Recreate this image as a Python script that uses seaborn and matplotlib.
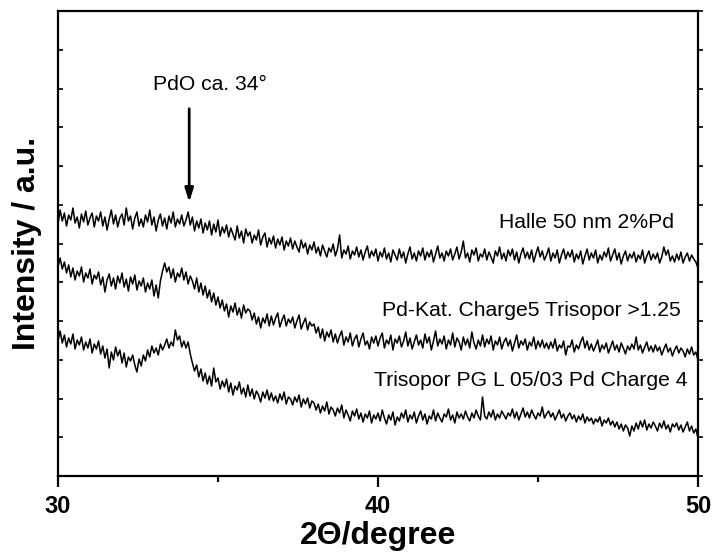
import numpy as np
import pandas as pd
import matplotlib
matplotlib.use("Agg")
import matplotlib.pyplot as plt
import seaborn as sns

# Intensities (a.u., offset traces), 301 points from 30 to 50 deg 2-theta
halle = [
    252, 266, 255, 263, 250, 261, 256, 268, 253, 259,
    248, 262, 254, 265, 251, 258, 263, 249, 260, 255,
    264, 250, 259, 246, 257, 266, 252, 261, 249, 258,
    262, 251, 268, 255, 260, 247, 258, 264, 250, 257,
    249, 261, 254, 266, 251, 259, 245, 256, 262, 250,
    258, 247, 260, 253, 264, 249, 257, 252, 261, 250,
    256, 264, 251, 259, 245, 255, 248, 257, 243, 253,
    246, 255, 241, 252, 244, 256, 240, 249, 243, 251,
    239, 248, 242, 236, 250, 238, 245, 233, 247, 240,
    244, 233, 241, 236, 246, 231, 239, 243, 229, 238,
    232, 240, 228, 237, 231, 239, 226, 235, 230, 238,
    227, 235, 229, 224, 236, 228, 233, 222, 231, 226,
    234, 223, 229, 220, 231, 225, 219, 228, 224, 232,
    220, 227, 241, 218, 226, 222, 230, 217, 225, 221,
    229, 219, 226, 216, 224, 230, 218, 225, 220, 227,
    215, 224, 219, 228, 217, 223, 214, 226, 221, 216,
    227, 218, 224, 213, 222, 229, 217, 223, 215, 225,
    220, 228, 216, 224, 219, 226, 214, 222, 230, 218,
    223, 215, 225, 220, 227, 216, 222, 229, 217, 224,
    235, 218, 223, 214, 226, 221, 228, 215, 222, 219,
    227, 216, 224, 219, 213, 225, 220, 229, 217, 223,
    215, 226, 220, 227, 216, 224, 213, 222, 228, 218,
    224, 217, 226, 214, 222, 229, 219, 225, 216, 221,
    228, 215, 223, 218, 226, 213, 221, 227, 217, 224,
    219, 226, 214, 222, 217, 225, 212, 220, 227, 216,
    223, 218, 226, 213, 221, 216, 224, 219, 228, 215,
    221, 227, 216, 223, 212, 220, 225, 215, 222, 218,
    224, 214, 221, 217, 226, 213, 220, 225, 216, 222,
    217, 223, 213, 219, 229, 221, 226, 215, 220, 214,
    222, 216, 224, 213, 219, 223, 215, 221, 217, 214,
    208,
]

pd_kat = [
    209, 218, 207, 214, 203, 211, 199, 208, 196, 205,
    200, 209, 194, 203, 198, 207, 192, 201, 197, 204,
    191, 199, 184, 196, 202, 190, 198, 187, 200, 193,
    203, 189, 197, 185, 199, 192, 201, 186, 195, 190,
    198, 184, 193, 187, 196, 180, 191, 178, 195, 205,
    213, 204, 209, 198, 207, 194, 203, 199, 208, 196,
    204, 192, 200, 195, 187, 198, 184, 193, 181, 190,
    178, 186, 174, 183, 171, 179, 168, 176, 165, 172,
    159, 170, 164, 173, 161, 168, 158, 171, 163, 167,
    165, 156, 163, 152, 159, 148, 158, 153, 162, 150,
    160, 151, 158, 163, 149, 156, 161, 150, 157, 153,
    159, 148, 155, 161, 147, 153, 158, 146, 154, 150,
    152, 143, 149, 138, 147, 135, 144, 139, 146, 134,
    142, 133, 140, 145, 131, 139, 134, 143, 130, 137,
    141, 129, 137, 143, 131, 135, 127, 139, 133, 140,
    130, 138, 143, 128, 136, 132, 141, 126, 137, 133,
    140, 129, 135, 144, 130, 138, 127, 134, 141, 131,
    136, 128, 142, 133, 139, 126, 135, 145, 130, 137,
    132, 140, 127, 136, 131, 143, 129, 138, 134, 126,
    139, 131, 137, 128, 144, 133, 127, 136, 130, 141,
    129, 137, 132, 140, 126, 135, 131, 139, 127, 134,
    138, 130, 136, 125, 133, 141, 128, 135, 131, 137,
    126, 134, 130, 139, 127, 135, 129, 136, 128, 133,
    127, 134, 128, 137, 125, 131, 128, 135, 121, 130,
    129, 136, 124, 131, 127, 134, 139, 128, 135, 126,
    132, 125, 130, 136, 124, 131, 127, 133, 123, 129,
    135, 126, 131, 124, 133, 128, 122, 130, 126, 132,
    127, 139, 126, 131, 123, 129, 134, 125, 130, 124,
    131, 125, 129, 121, 127, 132, 124, 128, 120, 126,
    130, 123, 128, 125, 119, 127, 122, 129, 121, 124,
    116,
]

trisopor = [
    135, 145, 133, 141, 129, 138, 132, 142, 127, 136,
    131, 139, 126, 134, 128, 137, 123, 132, 127, 135,
    122, 130, 118, 127, 108, 124, 116, 129, 120, 126,
    113, 123, 109, 119, 115, 121, 111, 104, 117, 110,
    121, 115, 126, 119, 130, 123, 128, 121, 132, 126,
    131, 137, 128, 134, 130, 146, 136, 140, 129, 135,
    128, 134, 122, 113, 105, 111, 99, 107, 95, 103,
    92, 100, 90, 108, 94, 98, 87, 95, 89, 97,
    84, 93, 81, 90, 86, 94, 82, 88, 79, 91,
    80, 87, 77, 85, 81, 74, 84, 78, 86, 76,
    83, 75, 80, 73, 82, 76, 84, 72, 79, 77,
    71, 79, 74, 81, 69, 77, 72, 78, 68, 75,
    73, 66, 72, 63, 70, 65, 74, 62, 69, 66,
    60, 68, 63, 71, 58, 66, 61, 55, 65, 60,
    67, 57, 63, 54, 62, 58, 65, 53, 61, 57,
    63, 55, 66, 58, 52, 61, 56, 64, 51, 59,
    55, 63, 58, 66, 54, 61, 57, 64, 53, 60,
    65, 56, 62, 52, 60, 57, 66, 55, 63, 58,
    54, 62, 59, 67, 56, 61, 53, 64, 58, 62,
    57, 65, 59, 55, 63, 58, 66, 60, 56, 79,
    60, 57, 64, 59, 66, 56, 62, 58, 65, 61,
    57, 63, 60, 67, 58, 64, 56, 62, 68, 59,
    64, 58, 66, 61, 57, 63, 60, 69, 58, 62,
    65, 59, 63, 56, 61, 66, 58, 62, 55, 60,
    63, 57, 61, 54, 60, 56, 62, 53, 59, 55,
    58, 52, 57, 54, 59, 50, 56, 53, 58, 51,
    55, 49, 54, 47, 52, 45, 51, 48, 40, 50,
    45, 53, 47, 55, 49, 56, 46, 52, 48, 54,
    50, 45, 53, 48, 55, 47, 51, 44, 52, 49,
    53, 46, 51, 44, 49, 54, 45, 50, 43, 47,
    38,
]

series_names = ["Halle 50 nm 2%Pd",
                "Pd-Kat. Charge5 Trisopor >1.25",
                "Trisopor PG L 05/03 Pd Charge 4"]
x_ticks = [30, 40, 50]
x_tick_labels = ["30", "40", "50"]
annotation = "PdO ca. 34°"
arrow_x = 34.1

sns.set_style("ticks")
plt.rcParams["font.family"] = ["Liberation Sans", "DejaVu Sans"]
plt.rcParams["text.color"] = "black"
plt.rcParams["axes.labelcolor"] = "black"
plt.rcParams["xtick.color"] = "black"
plt.rcParams["ytick.color"] = "black"

frames = []
for name, vals in zip(series_names, [halle, pd_kat, trisopor]):
    tt = np.linspace(30, 50, len(vals))
    frames.append(pd.DataFrame({"two_theta": tt, "intensity": vals, "sample": name}))
df = pd.concat(frames, ignore_index=True)

fig = plt.figure(figsize=(7.14, 5.52), dpi=100)
ax = fig.add_axes([58 / 714, 76 / 552, 640 / 714, 465 / 552])

sns.lineplot(data=df, x="two_theta", y="intensity", hue="sample",
             palette=["black"] * 3, linewidth=1.1, legend=False, ax=ax,
             estimator=None, sort=False)

ax.set_xlim(30, 50)
ax.set_ylim(0, 465)

for s in ax.spines.values():
    s.set_linewidth(1.6)
    s.set_color("black")

ax.set_xticks(x_ticks)
ax.set_xticklabels(x_tick_labels, fontsize=17, fontweight="bold")
ax.set_xticks([35, 45], minor=True)
ax.tick_params(axis="x", which="major", direction="out", length=8, width=1.6, pad=6)
ax.tick_params(axis="x", which="minor", direction="out", length=4.5, width=1.6)
yt = np.linspace(0, 465, 13)
ax.set_yticks(yt)
ax.set_yticklabels([])
ax.tick_params(axis="y", which="major", direction="in", length=3.5, width=1.2,
               left=True, right=False)

ax2 = ax.twinx()
ax2.set_ylim(0, 465)
ax2.set_yticks(yt)
ax2.set_yticklabels([])
ax2.tick_params(axis="y", direction="out", length=3.5, width=1.2)
for s in ax2.spines.values():
    s.set_visible(False)

ax.set_xlabel("2Θ/degree", fontsize=23, fontweight="bold", labelpad=2)
ax.set_ylabel("Intensity / a.u.", fontsize=23, fontweight="bold", labelpad=8)

ax.text(46.53, 254, series_names[0], fontsize=15.2, ha="center", va="center")
ax.text(44.78, 165, series_names[1], fontsize=15.2, ha="center", va="center")
ax.text(44.77, 96, series_names[2], fontsize=15.2, ha="center", va="center")
ax.text(34.75, 392, annotation, fontsize=15.2, ha="center", va="center")
ax.annotate("", xy=(arrow_x, 271), xytext=(arrow_x, 370),
            arrowprops=dict(arrowstyle="-|>,head_length=0.8,head_width=0.25",
                            color="black", lw=2))

fig.savefig("out.png", dpi=100)
